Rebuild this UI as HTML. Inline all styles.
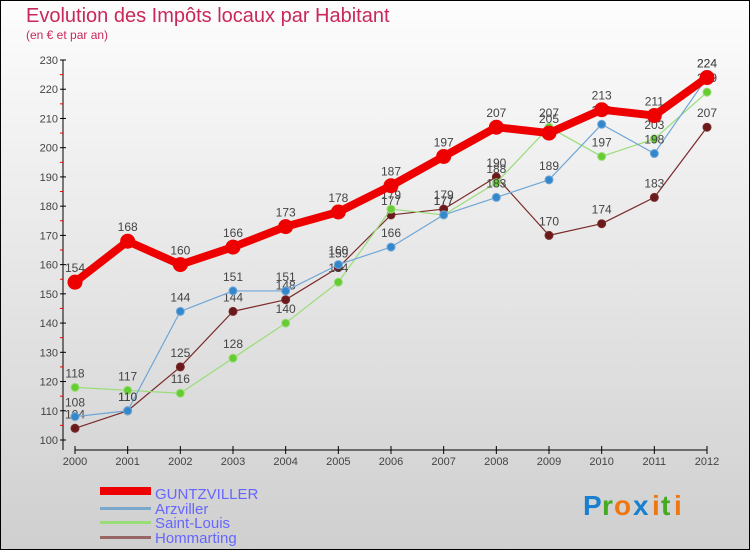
<!DOCTYPE html>
<html><head><meta charset="utf-8"><style>
body{margin:0}
svg{display:block;font-family:"Liberation Sans",sans-serif}
</style></head><body>
<svg width="750" height="550">
<defs><linearGradient id="bg" x1="0" y1="0" x2="0" y2="1"><stop offset="0" stop-color="#fdfdfd"/><stop offset="1" stop-color="#cfcfcf"/></linearGradient></defs>
<rect x="0.5" y="0.5" width="749" height="549" fill="url(#bg)" stroke="#000"/>
<text x="26" y="22" font-size="20" fill="#c8285a">Evolution des Impôts locaux par Habitant</text>
<text x="26" y="39" font-size="12" fill="#c8285a">(en € et par an)</text>
<g id="axes"></g>
<g id="series"></g>
<g id="legend">
<rect x="100" y="487" width="51" height="8" fill="#e00"/>
<text x="155" y="499" font-size="15" fill="#6666ff">GUNTZVILLER</text>
<rect x="100" y="507" width="51" height="3" fill="#7aa8cc"/>
<text x="155" y="514" font-size="15" fill="#6666ff">Arzviller</text>
<rect x="100" y="521" width="51" height="3" fill="#99dd77"/>
<text x="155" y="528" font-size="15" fill="#6666ff">Saint-Louis</text>
<rect x="100" y="536" width="51" height="3" fill="#996666"/>
<text x="155" y="543" font-size="15" fill="#6666ff">Hommarting</text>
</g>
<g font-size="28" font-weight="bold">
<text x="583" y="515" fill="#1a7fd0">P</text><text x="602" y="515" fill="#44aa22">r</text><text x="614" y="515" fill="#ee7711">o</text><text x="633" y="515" fill="#1a7fd0">x</text><text x="652" y="515" fill="#ee7711">i</text><text x="661" y="515" fill="#44aa22">t</text><text x="674" y="515" fill="#ee7711">i</text>
</g>
</svg>
<script>
const years=[2000,2001,2002,2003,2004,2005,2006,2007,2008,2009,2010,2011,2012];
const yTicks=[100,110,120,130,140,150,160,170,180,190,200,210,220,230];
const guntzviller=[154,168,160,166,173,178,187,197,207,205,213,211,224];
const arzviller=[108,110,144,151,151,160,166,177,183,189,208,198,224];
const saintLouis=[118,117,116,128,140,154,179,177,188,207,197,203,219];
const hommarting=[104,110,125,144,148,159,177,179,190,170,174,183,207];
const NS="http://www.w3.org/2000/svg";
const X=i=>75+i*(707-75)/(years.length-1);
const Y=v=>440-(v-100)*(380/130);
function mk(p,t,a){const e=document.createElementNS(NS,t);for(const k in a)e.setAttribute(k,a[k]);p.appendChild(e);return e;}
const ax=document.getElementById('axes');
let e=mk(ax,'line',{x1:63,y1:60,x2:63,y2:450,stroke:'#000'});


e=mk(ax,'line',{x1:75,y1:450,x2:707,y2:450,stroke:'#000'});


yTicks.forEach((v,i)=>{
 mk(ax,'line',{x1:60,x2:66,y1:Y(v),y2:Y(v),stroke:'#000'});
 if(i<yTicks.length-1)mk(ax,'line',{x1:60,x2:63,y1:Y(v+5),y2:Y(v+5),stroke:'#e00'});
 const t=mk(ax,'text',{x:58,y:Y(v)+4,'font-size':11,fill:'#444','text-anchor':'end'});
 t.textContent=v;
 
 
});
years.forEach((yr,i)=>{
 mk(ax,'line',{x1:X(i),x2:X(i),y1:446,y2:454,stroke:'#000'});
 const t=mk(ax,'text',{x:X(i),y:465,'font-size':11,fill:'#444','text-anchor':'middle'});
 t.textContent=yr;
 
 
});
const sg=document.getElementById('series');
function series(data,name,color,dot,w,r){
 const g=mk(sg,'g',{});
 
 
 const pl=mk(g,'polyline',{points:data.map((v,i)=>X(i)+','+Y(v)).join(' '),fill:'none',stroke:color,'stroke-width':w,'stroke-linejoin':'round'});
 
 
 data.forEach((v,i)=>{
  const c=mk(g,'circle',{cx:X(i),cy:Y(v),r:r,fill:dot,stroke:color,'stroke-width':1});
  
  
  const t=mk(g,'text',{x:X(i),y:Y(v)-10,'font-size':12,fill:'#444','text-anchor':'middle'});
  t.textContent=v;
  
  
 });
}
series(hommarting,'hommarting','#7a2a2a','#6a1a1a',1.2,4);
series(saintLouis,'saint-louis','#99dd77','#66cc33',1.2,4);
series(arzviller,'arzviller','#6fa6d6','#3388cc',1.2,4);
series(guntzviller,'guntzviller','#ee0000','#ee0000',8,7);
</script>
</body></html>
